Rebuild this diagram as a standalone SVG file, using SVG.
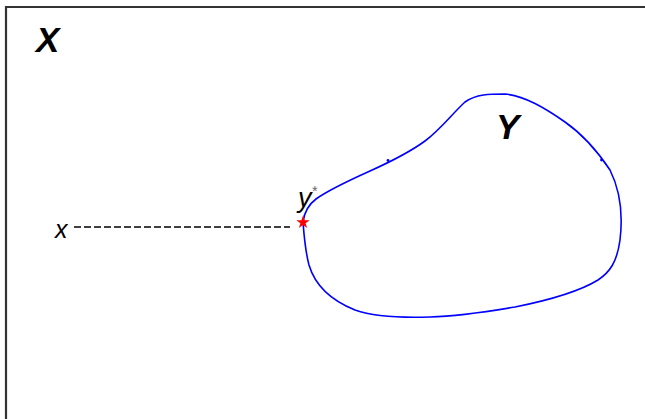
<svg xmlns="http://www.w3.org/2000/svg" width="645" height="419" viewBox="0 0 645 419">
<style>
.lbl{font-family:"Liberation Sans",Arial,sans-serif;font-style:italic;fill:#000}
.big{font-weight:bold;font-size:35px}
.curve{fill:none;stroke:#0000ff;stroke-width:1.6;stroke-linejoin:round}
.dash{stroke:#000;stroke-width:1.4;stroke-dasharray:7,3}
</style>
<rect width="645" height="419" fill="#fff"/>
<g id="frame">
<path d="M6,419 V7 H645" fill="none" stroke="#333" stroke-width="2.2"/>
</g>
<g id="X-label"><text class="lbl big" x="36" y="52">X</text></g>
<g id="set-Y">
<path class="curve" d="M303,222 C304,214 308,205 316,199 C330,189 350,180 370,171 C390,162 410,152 425,141 C440,130 452,114 465,102 C476,94 490,94 505,94 C525,96 545,108 565,122 C585,136 600,155 610,170 C620,190 623,215 620,240 C617,262 610,272 598,280 C580,291 550,300 515,307 C485,312 460,316 430,317 C400,318 375,317 355,310 C330,300 315,285 309,265 C305,250 304,235 303,222 Z"/>
<circle cx="388" cy="160.5" r="1.4" fill="#0000ff"/>
<circle cx="601.5" cy="160" r="1.4" fill="#0000ff"/>
<text class="lbl big" x="496" y="139">Y</text>
</g>
<g id="connectors">
<line class="dash" x1="74" y1="227" x2="290" y2="227"/>
</g>
<g id="x-point"><text class="lbl" x="55" y="238" font-size="25" fill="#111">x</text></g>
<g id="y-star">
<polygon fill="#ff0000" points="303,215.5 304.6,220.3 309.7,220.3 305.6,223.3 307.1,228.1 303,225.1 298.9,228.1 300.4,223.3 296.3,220.3 301.4,220.3"/>
<text class="lbl" x="298" y="207" font-size="27">y<tspan font-size="14" dy="-11" fill="#666">*</tspan></text>
</g>
</svg>
